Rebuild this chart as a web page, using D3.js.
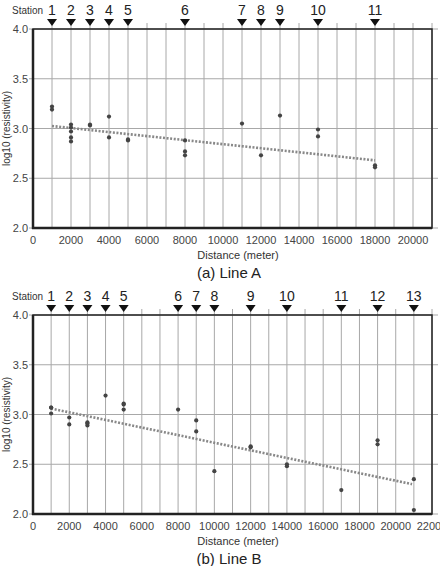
<!DOCTYPE html>
<html><head><meta charset="utf-8">
<script src="https://cdn.jsdelivr.net/npm/d3@7"></script>
<style>body{margin:0;background:#fff}svg{display:block;font-family:"Liberation Sans",Arial,sans-serif}</style>
</head><body>
<svg id="c" width="440" height="566"></svg>
<script>
// ---- Data ----
const yTicks = [2.0, 2.5, 3.0, 3.5, 4.0];
const stationsA = [1,2,3,4,5,6,7,8,9,10,11];
const stationPosA = [1000,2000,3000,4000,5000,8000,11000,12000,13000,15000,18000];
const distA = [1000,1000,2000,2000,2000,2000,2000,3000,3000,4000,4000,5000,5000,8000,8000,8000,11000,12000,13000,15000,15000,18000,18000];
const valA  = [3.22,3.19,3.04,3.01,2.97,2.91,2.87,3.04,3.03,3.12,2.91,2.89,2.88,2.88,2.77,2.73,3.05,2.73,3.13,2.99,2.92,2.63,2.61];
const trendXA = [1000,18000];
const trendYA = [3.025,2.68];
const xTicksA = [0,2000,4000,6000,8000,10000,12000,14000,16000,18000,20000];

const stationsB = [1,2,3,4,5,6,7,8,9,10,11,12,13];
const stationPosB = [1000,2000,3000,4000,5000,8000,9000,10000,12000,14000,17000,19000,21000];
const distB = [1000,1000,1000,2000,2000,3000,3000,3000,4000,5000,5000,5000,8000,9000,9000,10000,12000,12000,14000,14000,17000,19000,19000,21000,21000];
const valB  = [3.07,3.07,3.01,2.97,2.90,2.92,2.91,2.89,3.19,3.11,3.10,3.05,3.05,2.94,2.83,2.43,2.68,2.67,2.50,2.48,2.24,2.74,2.70,2.35,2.04];
const trendXB = [1000,20900];
const trendYB = [3.06,2.30];
const xTicksB = [0,2000,4000,6000,8000,10000,12000,14000,16000,18000,20000,22000];

const svg = d3.select("#c");

function panel(o){
  const g = svg.append("g");
  const x = d3.scaleLinear().domain([0,o.xmax]).range([33,432]);
  const y = d3.scaleLinear().domain([2,4]).range([o.bottom,o.top]);
  // vertical grid
  const vg = d3.range(1000,o.xmax+1,1000);
  g.selectAll(".vg").data(vg).join("line")
    .attr("x1",d=>x(d)).attr("x2",d=>x(d))
    .attr("y1",o.top-6).attr("y2",o.bottom)
    .attr("stroke","#a8a8a8").attr("stroke-width",1);
  // horizontal grid
  g.selectAll(".hg").data(yTicks).join("line")
    .attr("x1",29).attr("x2",438)
    .attr("y1",d=>y(d)).attr("y2",d=>y(d))
    .attr("stroke","#a8a8a8").attr("stroke-width",1);
  // frame
  g.append("rect").attr("x",x(0)).attr("y",o.top).attr("width",x(o.xmax)-x(0)).attr("height",o.bottom-o.top)
    .attr("fill","none").attr("stroke","#222").attr("stroke-width",1.5);
  g.append("line").attr("x1",x(0)).attr("x2",x(0)).attr("y1",o.top).attr("y2",o.bottom+1).attr("stroke","#222").attr("stroke-width",2.5);
  g.append("line").attr("x1",x(0)-1).attr("x2",x(o.xmax)).attr("y1",o.bottom).attr("y2",o.bottom).attr("stroke","#222").attr("stroke-width",2.5);
  // y tick labels
  g.selectAll(".yl").data(yTicks).join("text")
    .attr("x",28).attr("y",d=>y(d)+4).attr("text-anchor","end")
    .attr("font-size",11).attr("fill","#444").text(d=>d.toFixed(1));
  // x tick labels
  g.selectAll(".xl").data(o.xTicks).join("text")
    .attr("x",d=>x(d)).attr("y",o.bottom+16).attr("text-anchor","middle")
    .attr("font-size",11).attr("fill","#444").text(d=>d);
  g.append("text").attr("x",238).attr("y",o.bottom+31).attr("text-anchor","middle")
    .attr("font-size",11).attr("fill","#333").text("Distance (meter)");
  g.append("text").attr("x",229).attr("y",o.bottom+50).attr("text-anchor","middle")
    .attr("font-size",15).attr("fill","#222").text(o.caption);
  g.append("text").attr("transform",`translate(10,${(o.top+o.bottom)/2}) rotate(-90)`)
    .attr("text-anchor","middle").attr("font-size",10).attr("fill","#333").text("log10 (resistivity)");
  // stations
  g.append("text").attr("x",12).attr("y",o.top-15).attr("font-size",10).attr("fill","#333")
    .attr("textLength",31).attr("lengthAdjust","spacingAndGlyphs").text("Station");
  g.selectAll(".sl").data(o.stations).join("text")
    .attr("x",(d,i)=>x(o.stationPos[i])).attr("y",o.top-14).attr("text-anchor","middle")
    .attr("font-size",14).attr("fill","#222").text(d=>d);
  g.selectAll(".st").data(o.stationPos).join("path")
    .attr("d",d=>`M${x(d)-5},${o.top-10}L${x(d)+5},${o.top-10}L${x(d)},${o.top-3}Z`)
    .attr("fill","#111");
  // trend
  g.append("path").datum(o.trendX.map((d,i)=>[d,o.trendY[i]]))
    .attr("d",d3.line().x(d=>x(d[0])).y(d=>y(d[1])))
    .attr("fill","none").attr("stroke","#888").attr("stroke-width",2.6).attr("stroke-dasharray","2,1.6");
  // points
  g.selectAll(".pt").data(o.dist).join("circle")
    .attr("cx",d=>x(d)).attr("cy",(d,i)=>y(o.val[i])).attr("r",2.1).attr("fill","#444");
}

panel({xmax:21000, top:29, bottom:228, xTicks:xTicksA, stations:stationsA, stationPos:stationPosA,
  dist:distA, val:valA, trendX:trendXA, trendY:trendYA, caption:"(a) Line A"});
panel({xmax:22000, top:315, bottom:514, xTicks:xTicksB, stations:stationsB, stationPos:stationPosB,
  dist:distB, val:valB, trendX:trendXB, trendY:trendYB, caption:"(b) Line B"});
</script>
</body></html>
